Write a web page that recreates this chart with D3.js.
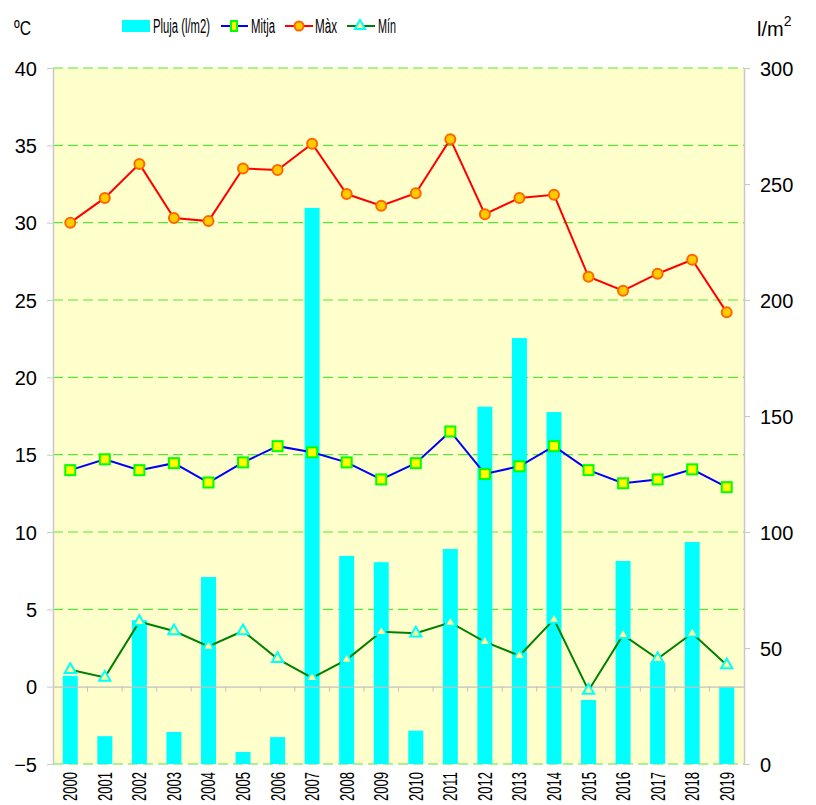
<!DOCTYPE html>
<html><head><meta charset="utf-8">
<script src="https://cdn.jsdelivr.net/npm/d3@7/dist/d3.min.js"></script>
<style>body{margin:0;background:#fff;font-family:"Liberation Sans",Arial,sans-serif;}</style>
</head><body><svg id="c" width="816" height="805"></svg>
<script>
const years = ["2000","2001","2002","2003","2004","2005","2006","2007","2008","2009","2010","2011","2012","2013","2014","2015","2016","2017","2018","2019"];
const pluja = [38, 12, 62, 13.8, 80.6, 5.2, 11.6, 239.7, 89.7, 87, 14.4, 92.7, 154, 183.6, 151.7, 27.6, 87.5, 43.5, 95.7, 33.3];
const mitja = [14.0, 14.7, 14.0, 14.45, 13.2, 14.5, 15.55, 15.15, 14.5, 13.4, 14.45, 16.5, 13.75, 14.25, 15.55, 14.0, 13.15, 13.4, 14.05, 12.9];
const maxT = [30.0, 31.6, 33.8, 30.3, 30.1, 33.5, 33.4, 35.1, 31.85, 31.1, 31.9, 35.4, 30.55, 31.6, 31.8, 26.5, 25.6, 26.7, 27.6, 24.2];
const minT = [1.1, 0.6, 4.2, 3.6, 2.6, 3.6, 1.8, 0.57, 1.75, 3.55, 3.45, 4.15, 2.9, 2.0, 4.35, -0.25, 3.35, 1.8, 3.45, 1.4];
const leftTicks = [-5, 0, 5, 10, 15, 20, 25, 30, 35, 40];
const rightTicks = [0, 50, 100, 150, 200, 250, 300];
const legendLabels = ["Pluja (l/m2)", "Mitja", "Màx", "Mín"];

const svg = d3.select("#c");
const L = 53, R = 744, T = 68, B = 764;
const x = d3.scaleBand().domain(years).range([L, R]);
const yL = d3.scaleLinear().domain([-5, 40]).range([B, T]);
const yR = d3.scaleLinear().domain([0, 300]).range([B, T]);

svg.append("rect").attr("x", L).attr("y", T).attr("width", R - L).attr("height", B - T).attr("fill", "#ffffcc");

// gridlines
svg.append("g").selectAll("line").data(leftTicks.filter(d => d !== 0)).join("line")
  .attr("x1", L).attr("x2", R).attr("y1", d => yL(d)).attr("y2", d => yL(d))
  .attr("stroke", "#55e83a").attr("stroke-width", 1.2).attr("stroke-dasharray", "10,5");

// bars
const bw = 15;
svg.append("g").selectAll("rect").data(years).join("rect")
  .attr("x", d => x(d) + x.bandwidth() / 2 - bw / 2)
  .attr("width", bw)
  .attr("y", (d, i) => yR(pluja[i]))
  .attr("height", (d, i) => B - yR(pluja[i]))
  .attr("fill", "#00ffff");

// zero line with ticks
const gx = svg.append("g").attr("transform", `translate(0,${yL(0)})`)
  .call(d3.axisBottom(x).tickSize(0).tickFormat(""));
gx.select(".domain").attr("stroke", "#c0c0c0").attr("stroke-width", 1.2);
gx.append("g").selectAll("line").data(years.slice(1)).join("line")
  .attr("x1", d => x(d)).attr("x2", d => x(d)).attr("y1", 0).attr("y2", 5)
  .attr("stroke", "#c0c0c0");

// left axis
const ga = svg.append("g").attr("transform", `translate(${L},0)`)
  .call(d3.axisLeft(yL).tickValues(leftTicks).tickSize(6).tickPadding(10).tickSizeOuter(0));
ga.select(".domain").attr("stroke", "#c8c8c8").attr("stroke-width", 1.5);
ga.selectAll(".tick line").attr("stroke", "#c8c8c8");
ga.selectAll("text").attr("font-size", 20).attr("fill", "#000").attr("font-family", "Liberation Sans, Arial, sans-serif").attr("dy", "0.35em");

// right axis
const gb = svg.append("g").attr("transform", `translate(${R},0)`)
  .call(d3.axisRight(yR).tickValues(rightTicks).tickSize(6).tickPadding(10).tickSizeOuter(0));
gb.select(".domain").attr("stroke", "#c8c8c8").attr("stroke-width", 1.5);
gb.selectAll(".tick line").attr("stroke", "#c8c8c8");
gb.selectAll("text").attr("font-size", 20).attr("fill", "#000").attr("font-family", "Liberation Sans, Arial, sans-serif").attr("dy", "0.35em");

// x labels
svg.append("g").selectAll("text").data(years).join("text")
  .attr("transform", d => `translate(${x(d) + x.bandwidth() / 2 + 7},772) rotate(-90)`)
  .attr("text-anchor", "end").attr("font-size", 20).attr("fill", "#000")
  .attr("textLength", 29).attr("lengthAdjust", "spacingAndGlyphs")
  .text(d => d);

const cx = d => x(d) + x.bandwidth() / 2;
function series(vals, color) {
  svg.append("path").datum(vals)
    .attr("d", d3.line().x((v, i) => cx(years[i])).y(v => yL(v)))
    .attr("fill", "none").attr("stroke", color).attr("stroke-width", 2);
}
series(maxT, "#ff0000");
series(mitja, "#0000ff");
series(minT, "#008000");

svg.append("g").selectAll("circle").data(maxT).join("circle")
  .attr("cx", (v, i) => cx(years[i])).attr("cy", v => yL(v)).attr("r", 5)
  .attr("fill", "#ffcc00").attr("stroke", "#ff6600").attr("stroke-width", 2);
svg.append("g").selectAll("rect").data(mitja).join("rect")
  .attr("x", (v, i) => cx(years[i]) - 5).attr("y", v => yL(v) - 5).attr("width", 10).attr("height", 10)
  .attr("fill", "#ffff00").attr("stroke", "#00ff00").attr("stroke-width", 2);
const tri = d3.symbol().type(d3.symbolTriangle).size(55);
svg.append("g").selectAll("path").data(minT).join("path")
  .attr("transform", (v, i) => `translate(${cx(years[i])},${yL(v)})`).attr("d", tri)
  .attr("fill", "#ffff99").attr("stroke", "#00ffff").attr("stroke-width", 2);

// titles
svg.append("text").attr("x", 14).attr("y", 35).attr("font-size", 21)
  .attr("textLength", 17).attr("lengthAdjust", "spacingAndGlyphs").text("ºC");
const ut = svg.append("text").attr("x", 757).attr("y", 36).attr("font-size", 20);
ut.append("tspan").text("l/m");
ut.append("tspan").attr("dy", -10).attr("font-size", 14).text("2");

// legend
const lg = svg.append("g").attr("font-size", 20);
const lw = [57, 24, 22, 18];
const lx = [153, 251, 315, 378];
lg.append("rect").attr("x", 122).attr("y", 20).attr("width", 28).attr("height", 12).attr("fill", "#00ffff");
lg.append("line").attr("x1", 221).attr("x2", 248).attr("y1", 26).attr("y2", 26).attr("stroke", "#0000ff").attr("stroke-width", 2);
lg.append("rect").attr("x", 231).attr("y", 21).attr("width", 6).attr("height", 10).attr("fill", "#ffff00").attr("stroke", "#00ff00").attr("stroke-width", 2);
lg.append("line").attr("x1", 285).attr("x2", 313).attr("y1", 26).attr("y2", 26).attr("stroke", "#ff0000").attr("stroke-width", 2);
lg.append("circle").attr("cx", 299).attr("cy", 26).attr("r", 4.5).attr("fill", "#ffcc00").attr("stroke", "#ff6600").attr("stroke-width", 2);
lg.append("line").attr("x1", 347).attr("x2", 375).attr("y1", 26).attr("y2", 26).attr("stroke", "#008000").attr("stroke-width", 2);
lg.append("path").attr("transform", "translate(360,26)").attr("d", d3.symbol().type(d3.symbolTriangle).size(45)).attr("fill", "#ffff99").attr("stroke", "#00ffff").attr("stroke-width", 2);
lg.selectAll("text").data(legendLabels).join("text")
  .attr("x", (d, i) => lx[i]).attr("y", 33)
  .attr("textLength", (d, i) => lw[i]).attr("lengthAdjust", "spacingAndGlyphs")
  .text(d => d);
</script></body></html>
